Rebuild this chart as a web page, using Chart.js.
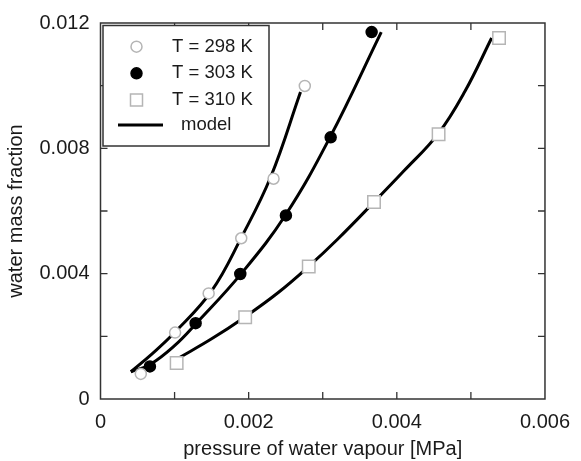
<!DOCTYPE html>
<html><head><meta charset="utf-8">
<script src="https://cdn.jsdelivr.net/npm/chart.js@4/dist/chart.umd.min.js"></script>
<style>html,body{margin:0;padding:0;background:#fff}#wrap{width:581px;height:461px}</style>
</head><body><div id="wrap"><canvas id="c" width="581" height="461"></canvas></div>
<script>
// measured data (pressure MPa, water mass fraction)
const p298 = [0.000544, 0.001007, 0.00146, 0.0019, 0.002336, 0.002758];
const w298 = [0.00080, 0.00212, 0.00337, 0.00513, 0.00703, 0.00999];
const p303 = [0.000667, 0.001284, 0.001887, 0.002503, 0.003107, 0.00366];
const w303 = [0.00104, 0.00242, 0.00399, 0.00586, 0.00835, 0.01171];
const p310 = [0.001028, 0.001953, 0.002811, 0.003692, 0.004564, 0.00538];
const w310 = [0.00115, 0.00261, 0.00423, 0.00629, 0.00845, 0.01152];
// model curves
const mp298 = [0.00041, 0.00070, 0.00100, 0.00150, 0.00190, 0.00230, 0.00270];
const mw298 = [0.00087, 0.00145, 0.00212, 0.00345, 0.00515, 0.00710, 0.00980];
const mp303 = [0.00041, 0.00067, 0.00100, 0.00130, 0.00190, 0.00250, 0.00310, 0.00379];
const mw303 = [0.00087, 0.00110, 0.00170, 0.00243, 0.00400, 0.00588, 0.00836, 0.01171];
const mp310 = [0.00105, 0.00150, 0.00195, 0.00240, 0.00281, 0.00320, 0.00369, 0.00410, 0.00456, 0.00492, 0.00528];
const mw310 = [0.00130, 0.00192, 0.00262, 0.00340, 0.00423, 0.00510, 0.00628, 0.00729, 0.00847, 0.00982, 0.01152];
const legendLabels = ['T = 298 K', 'T = 303 K', 'T = 310 K', 'model'];
const xTickLabels = ['0', '0.002', '0.004', '0.006'];
const yTickLabels = ['0', '0.004', '0.008', '0.012'];

const FONT = "'Liberation Sans', Arial, sans-serif";
const TXT = '#1a1a1a';
const GRAYM = '#b5b5b5';
const pts = (xs, ys) => xs.map((x, i) => ({x, y: ys[i]}));

const frameTicks = {
  id: 'frameTicks',
  afterDatasetsDraw(chart) {
    const {ctx, chartArea: a, scales: {x, y}} = chart;
    ctx.save();
    ctx.strokeStyle = '#333';
    ctx.lineWidth = 1.5;
    ctx.strokeRect(a.left, a.top, a.right - a.left, a.bottom - a.top);
    ctx.lineWidth = 1.3;
    const tl = 7;
    ctx.beginPath();
    for (let i = 1; i < 6; i++) {
      const px = x.getPixelForValue(i * 0.001);
      ctx.moveTo(px, a.bottom); ctx.lineTo(px, a.bottom - tl);
      ctx.moveTo(px, a.top); ctx.lineTo(px, a.top + tl);
    }
    for (let i = 1; i < 6; i++) {
      const py = y.getPixelForValue(i * 0.002);
      ctx.moveTo(a.left, py); ctx.lineTo(a.left + tl, py);
      ctx.moveTo(a.right, py); ctx.lineTo(a.right - tl, py);
    }
    ctx.stroke();

    // legend
    const lx = 103, ly = 25.5, lw = 166, lh = 120.5;
    ctx.fillStyle = '#fff';
    ctx.fillRect(lx, ly, lw, lh);
    ctx.strokeStyle = '#333';
    ctx.lineWidth = 1.5;
    ctx.strokeRect(lx, ly, lw, lh);
    const mx = 136.5;
    const rows = [46.7, 73.3, 100, 125];
    ctx.lineWidth = 1.5;
    ctx.beginPath(); ctx.arc(mx, rows[0], 5.5, 0, Math.PI * 2);
    ctx.fillStyle = '#fff'; ctx.fill(); ctx.strokeStyle = GRAYM; ctx.stroke();
    ctx.beginPath(); ctx.arc(mx, rows[1], 5.5, 0, Math.PI * 2);
    ctx.fillStyle = '#000'; ctx.fill(); ctx.strokeStyle = '#000'; ctx.stroke();
    ctx.fillStyle = '#fff'; ctx.strokeStyle = GRAYM;
    ctx.fillRect(mx - 6, rows[2] - 6, 12, 12); ctx.strokeRect(mx - 6, rows[2] - 6, 12, 12);
    ctx.beginPath(); ctx.moveTo(118, rows[3]); ctx.lineTo(163, rows[3]);
    ctx.strokeStyle = '#000'; ctx.lineWidth = 3; ctx.stroke();
    ctx.fillStyle = TXT;
    ctx.font = '18.5px ' + FONT;
    ctx.textBaseline = 'middle';
    ctx.textAlign = 'left';
    ctx.fillText(legendLabels[0], 172, rows[0]);
    ctx.fillText(legendLabels[1], 172, rows[1]);
    ctx.fillText(legendLabels[2], 172, rows[2]);
    ctx.fillText(legendLabels[3], 181, rows[3]);
    ctx.restore();
  }
};

const lineDs = (xs, ys) => ({
  data: pts(xs, ys), showLine: true, borderColor: '#000', borderWidth: 3,
  pointRadius: 0, tension: 0.4, fill: false
});

new Chart(document.getElementById('c'), {
  type: 'scatter',
  data: {
    datasets: [
      {label: legendLabels[0], data: pts(p298, w298), pointStyle: 'circle', pointRadius: 5.5,
       pointBackgroundColor: '#fff', pointBorderColor: GRAYM, pointBorderWidth: 1.5},
      {label: legendLabels[1], data: pts(p303, w303), pointStyle: 'circle', pointRadius: 5.5,
       pointBackgroundColor: '#000', pointBorderColor: '#000', pointBorderWidth: 1.5},
      {label: legendLabels[2], data: pts(p310, w310), pointStyle: 'rect', pointRadius: 8.8,
       pointBackgroundColor: '#fff', pointBorderColor: GRAYM, pointBorderWidth: 1.5},
      Object.assign({label: 'model 298'}, lineDs(mp298, mw298)),
      Object.assign({label: 'model 303'}, lineDs(mp303, mw303)),
      Object.assign({label: 'model 310'}, lineDs(mp310, mw310))
    ]
  },
  options: {
    responsive: false, animation: false, devicePixelRatio: 1,
    layout: {padding: {left: 0, right: 25, top: 20.5, bottom: 0}},
    plugins: {legend: {display: false}, tooltip: {enabled: false}},
    scales: {
      x: {
        type: 'linear', min: 0, max: 0.006,
        grid: {display: false, drawTicks: false}, border: {display: false},
        ticks: {stepSize: 0.002, padding: 11, color: TXT, font: {family: FONT, size: 20},
                maxRotation: 0,
                callback: (v) => xTickLabels[Math.round(v / 0.002)]},
        title: {display: true, text: 'pressure of water vapour [MPa]', color: TXT,
                font: {family: FONT, size: 20}, padding: {top: 0, bottom: 0}},
        afterFit: (s) => { s.height = 62; }
      },
      y: {
        type: 'linear', min: 0, max: 0.012,
        grid: {display: false, drawTicks: false}, border: {display: false},
        ticks: {stepSize: 0.004, padding: 11, color: TXT, font: {family: FONT, size: 20},
                callback: (v) => yTickLabels[Math.round(v / 0.004)]},
        title: {display: true, text: 'water mass fraction', color: TXT,
                font: {family: FONT, size: 20}, padding: {top: 4, bottom: 0}},
        afterFit: (s) => { s.width = 100.5; }
      }
    }
  },
  plugins: [frameTicks]
});
</script></body></html>
